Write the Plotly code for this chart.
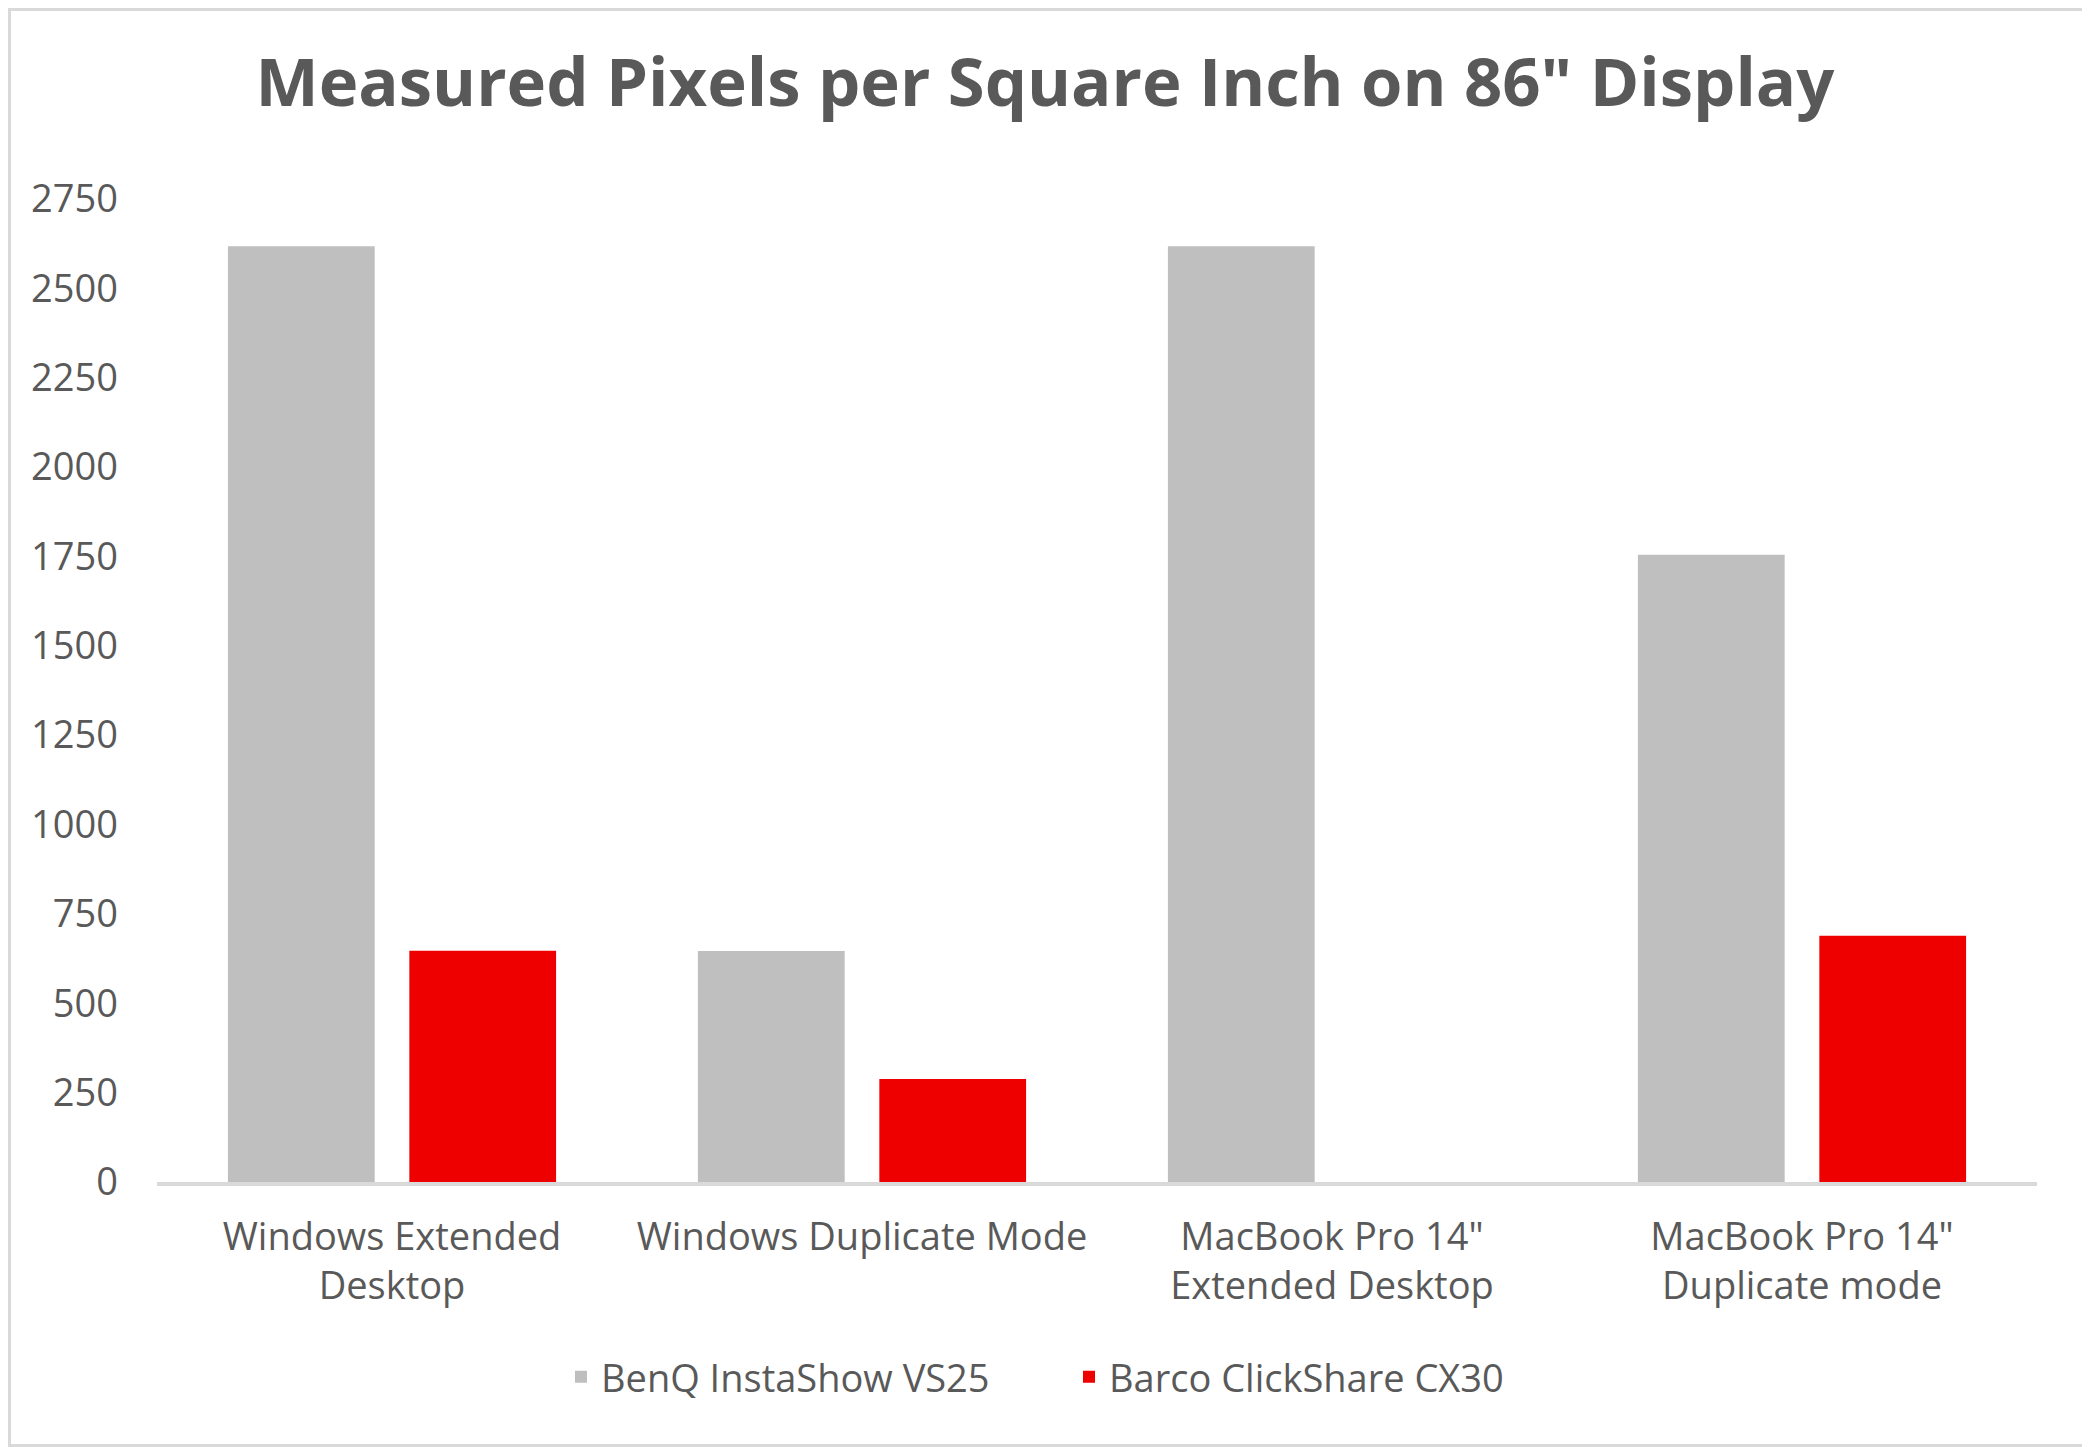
import plotly.graph_objects as go

categories = ["Windows Extended<br>Desktop", "Windows Duplicate Mode",
              "MacBook Pro 14\"<br>Extended Desktop", "MacBook Pro 14\"<br>Duplicate mode"]
benq_values = [2618, 646, 2618, 1755]
barco_values = [647, 288, 0, 689]
series_names = ["BenQ InstaShow VS25", "Barco ClickShare CX30"]
y_ticks = [0, 250, 500, 750, 1000, 1250, 1500, 1750, 2000, 2250, 2500, 2750]

OFF = 8  # page body margin
W, H = 2090 - OFF, 1447 - OFF
L, R, T, B = 157 - OFF, 53, 199 - OFF, 265
PW, PH = W - L - R, H - T - B

def px_x(p):
    return (p - L) / PW

def px_y(p):
    return (H - B - p) / PH

FONT = "Open Sans"
TXT = "#595959"
FS = 38
GRAY, RED = "#bfbfbf", "#ee0000"

fig = go.Figure()
fig.add_trace(go.Bar(x=categories, y=benq_values, name=series_names[0],
                     marker=dict(color=GRAY, line=dict(width=0))))
fig.add_trace(go.Bar(x=categories, y=barco_values, name=series_names[1],
                     marker=dict(color=RED, line=dict(width=0))))

fig.update_layout(
    width=W, height=H,
    margin=dict(l=L, r=R, t=T, b=B, autoexpand=False),
    paper_bgcolor="white", plot_bgcolor="white",
    barmode="group", bargap=0.228, bargroupgap=0.191,
    font=dict(family=FONT, color=TXT, size=FS),
    title=dict(text="<b>Measured Pixels per Square Inch on 86\" Display</b>",
               x=(1045 - OFF) / W, xanchor="center", xref="container",
               y=1 - (83 - OFF) / H, yanchor="middle", yref="container",
               font=dict(family=FONT, size=67, color=TXT)),
    showlegend=True,
    legend=dict(orientation="h", xref="container", x=(1069 - OFF) / W, xanchor="center",
                y=px_y(1377 - OFF), yanchor="middle",
                font=dict(family=FONT, size=FS, color=TXT),
                itemsizing="constant", tracegroupgap=0, itemwidth=30,
                entrywidthmode="pixels", entrywidth=463),
    xaxis=dict(showgrid=False, showline=True, linecolor="#d9d9d9", linewidth=4,
               ticks="", tickfont=dict(family=FONT, size=FS, color=TXT),
               ticklabelstandoff=18, zeroline=False),
    yaxis=dict(range=[0, 2750], tickvals=y_ticks, showgrid=False, zeroline=False,
               showline=False, ticks="", ticklabelstandoff=38,
               tickfont=dict(family=FONT, size=FS, color=TXT)),
    shapes=[dict(type="rect", xref="paper", yref="paper",
                 x0=px_x(1.5), x1=px_x(W - 1.5), y0=px_y(H - 1.5), y1=px_y(1.5),
                 line=dict(color="#d9d9d9", width=3), fillcolor="rgba(0,0,0,0)",
                 layer="below")],
)

fig.write_html("out.html")
